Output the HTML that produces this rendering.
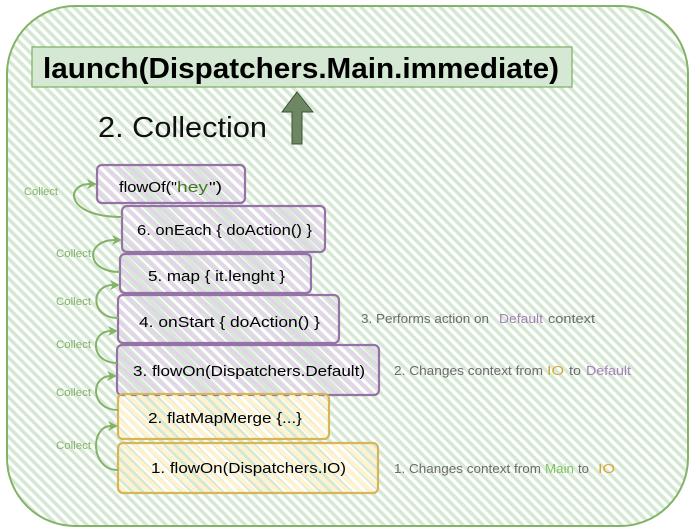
<!DOCTYPE html>
<html><head><meta charset="utf-8"><style>
html,body{margin:0;padding:0;background:#fff;}
svg{display:block;}
text{font-family:"Liberation Sans",sans-serif;}
</style></head><body>
<svg width="692" height="532" viewBox="0 0 692 532" xmlns="http://www.w3.org/2000/svg">
<defs>
<pattern id="g" width="7" height="7" patternUnits="userSpaceOnUse" patternTransform="rotate(45)"><rect width="7" height="3.6" fill="#d5e8d4"/></pattern>
<pattern id="p" width="8" height="8" patternUnits="userSpaceOnUse" patternTransform="rotate(43)"><rect width="8" height="4" fill="#e1d5e7"/></pattern>
<pattern id="y" width="8" height="8" patternUnits="userSpaceOnUse" patternTransform="rotate(43)"><rect width="8" height="4" fill="#fff2cc"/></pattern>
</defs>
<rect width="692" height="532" fill="#fff"/>
<!-- container -->
<rect x="7" y="6" width="681" height="520" rx="68" ry="68" fill="url(#g)" stroke="#82b366" stroke-width="2"/>
<!-- title -->
<rect x="32" y="47" width="540" height="40" fill="#d5e8d4" stroke="#82b366" stroke-width="1.3"/>
<text x="43" y="78" font-size="29" font-weight="bold" textLength="516" lengthAdjust="spacingAndGlyphs" fill="#000">launch(Dispatchers.Main.immediate)</text>
<text x="98" y="137" font-size="29" textLength="169" lengthAdjust="spacingAndGlyphs" fill="#111">2. Collection</text>
<!-- up arrow -->
<polygon points="297,92 313,112 302,112 302,144 292,144 292,112 282,112" fill="#6d8764" stroke="#3a5431" stroke-width="1"/>
<!-- boxes -->
<g stroke-width="2.2">
<rect x="97" y="165" width="148" height="38" rx="5" fill="url(#p)" stroke="#9673a6"/>
<rect x="122" y="206" width="203" height="46" rx="5" fill="url(#p)" stroke="#9673a6"/>
<rect x="120" y="254" width="191" height="39" rx="5" fill="url(#p)" stroke="#9673a6"/>
<rect x="118" y="295" width="221" height="48" rx="5" fill="url(#p)" stroke="#9673a6"/>
<rect x="117" y="345" width="262" height="50" rx="5" fill="url(#p)" stroke="#9673a6"/>
<rect x="118" y="394" width="211" height="45" rx="5" fill="url(#y)" stroke="#d6b656"/>
<rect x="118" y="443" width="260" height="50" rx="5" fill="url(#y)" stroke="#d6b656"/>
</g>
<!-- box labels -->
<g font-size="15" fill="#000">
<text x="119" y="192" textLength="58" lengthAdjust="spacingAndGlyphs">flowOf("</text>
<text x="177" y="192" textLength="31" lengthAdjust="spacingAndGlyphs" fill="#3f7a1f">hey</text>
<text x="209" y="192" textLength="13" lengthAdjust="spacingAndGlyphs">")</text>
<text x="137" y="235" textLength="175" lengthAdjust="spacingAndGlyphs">6. onEach { doAction() }</text>
<text x="148" y="281" textLength="137" lengthAdjust="spacingAndGlyphs">5. map { it.lenght }</text>
<text x="139" y="327" textLength="181" lengthAdjust="spacingAndGlyphs">4. onStart { doAction() }</text>
<text x="133" y="376" textLength="232" lengthAdjust="spacingAndGlyphs">3. flowOn(Dispatchers.Default)</text>
<text x="148" y="423" textLength="154" lengthAdjust="spacingAndGlyphs">2. flatMapMerge {...}</text>
<text x="151" y="473" textLength="195" lengthAdjust="spacingAndGlyphs">1. flowOn(Dispatchers.IO)</text>
</g>
<!-- connectors -->
<g fill="none" stroke="#82b366" stroke-width="2">
<path d="M122,217 C65,217 65,184 90,184"/>
<path d="M120,272 C85,272 85,240 115,240"/>
<path d="M118,318 C90,318 90,285 113,285"/>
<path d="M117,363 C90,363 90,331 111,331"/>
<path d="M118,410 C90,410 90,376 111,376"/>
<path d="M118,470 C90,470 90,426 111,426"/>
</g>
<g fill="#82b366">
<polygon points="97,184 87,179 90,184 87,189"/>
<polygon points="122,240 112,235 115,240 112,245"/>
<polygon points="120,285 110,280 113,285 110,290"/>
<polygon points="118,331 108,326 111,331 108,336"/>
<polygon points="117,376 107,371 110,376 107,381"/>
<polygon points="118,426 108,421 111,426 108,431"/>
</g>
<!-- collect labels -->
<g font-size="11" fill="#82b366">
<text x="24" y="195" textLength="34" lengthAdjust="spacingAndGlyphs">Collect</text>
<text x="56" y="257" textLength="35" lengthAdjust="spacingAndGlyphs">Collect</text>
<text x="56" y="305" textLength="35" lengthAdjust="spacingAndGlyphs">Collect</text>
<text x="56" y="348" textLength="35" lengthAdjust="spacingAndGlyphs">Collect</text>
<text x="56" y="396" textLength="35" lengthAdjust="spacingAndGlyphs">Collect</text>
<text x="56" y="449" textLength="35" lengthAdjust="spacingAndGlyphs">Collect</text>
</g>
<!-- right labels -->
<g font-size="13" fill="#6b6b6b">
<text x="361" y="323" textLength="128" lengthAdjust="spacingAndGlyphs">3. Performs action on</text>
<text x="499" y="323" textLength="44" lengthAdjust="spacingAndGlyphs" fill="#a680b8">Default</text>
<text x="548" y="323" textLength="47" lengthAdjust="spacingAndGlyphs">context</text>

<text x="394" y="375" textLength="149" lengthAdjust="spacingAndGlyphs">2. Changes context from</text>
<text x="547" y="375" textLength="17" lengthAdjust="spacingAndGlyphs" fill="#d6a936">IO</text>
<text x="569" y="375" textLength="12" lengthAdjust="spacingAndGlyphs">to</text>
<text x="586" y="375" textLength="45" lengthAdjust="spacingAndGlyphs" fill="#a680b8">Default</text>

<text x="394" y="473" textLength="147" lengthAdjust="spacingAndGlyphs">1. Changes context from</text>
<text x="545" y="473" textLength="29" lengthAdjust="spacingAndGlyphs" fill="#82c35f">Main</text>
<text x="578" y="473" textLength="11" lengthAdjust="spacingAndGlyphs">to</text>
<text x="598" y="473" textLength="17" lengthAdjust="spacingAndGlyphs" fill="#d6a936">IO</text>
</g>
</svg>
</body></html>
